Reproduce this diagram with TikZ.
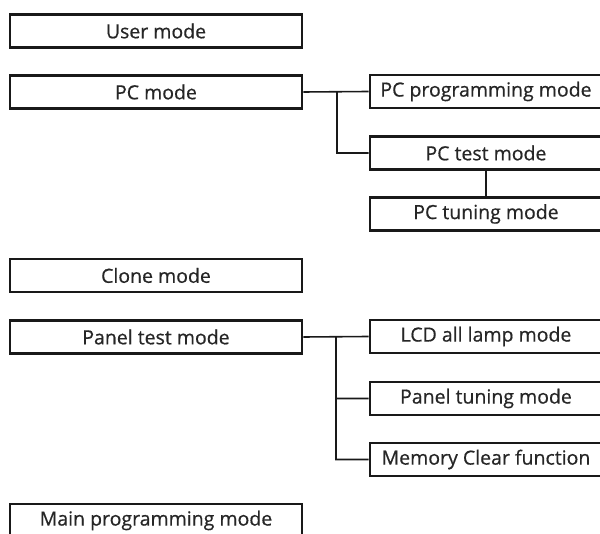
\documentclass[tikz,border=0pt]{standalone}
\usepackage{fontspec}
\setmainfont{Open Sans}[FakeBold=0.6]
\usetikzlibrary{positioning}

\begin{document}
\begin{tikzpicture}[x=1pt,y=-1pt,semithick]
			\tikzstyle{every node}=[font=\fontsize{19.5}{22}\selectfont,text=black!85]
			\tikzstyle{modebox}=[draw=black!90,line width=2.8pt,rectangle,inner sep=0pt,minimum width=292pt,minimum height=33pt]
			\tikzstyle{subbox}=[modebox,minimum width=232pt]
			\tikzstyle{link}=[draw=black!90,line width=1.6pt]
			\clip (0,0) rectangle (600,534);
			\node[modebox]    (U)   at (156,31)    {User mode};
			\node[modebox]    (P)   at (156,92)    {PC mode};
			\node[modebox]    (C)   at (156,275.5) {Clone mode};
			\node[modebox]    (T)   at (156,337)   {Panel test mode};
			\node[modebox]    (M)   at (156,520.5) {Main programming mode};
			\node[subbox]     (Pp)  at (486,91.5)  {PC programming mode};
			\node[subbox]     (Pt)  at (486,153)   {PC test mode};
			\node[subbox]     (Pu)  at (486,214)   {PC tuning mode};
			\node[subbox]     (Tl)  at (486,336.5) {LCD all lamp mode};
			\node[subbox]     (Tu)  at (486,398.5) {Panel tuning mode};
			\node[subbox]     (Tm)  at (486,459.5) {Memory Clear function};
			\coordinate (Pj) at (337,91.5);
			\coordinate (Tj) at (336,336.5);
			\path[link]
			(P.east) -- (Pp.west)
			(Pj) |- (Pt.west)
			(Pt) -- (Pu)
			(T.east) -- (Tl.west)
			(Tj) |- (Tu.west)
			(Tj) |- (Tm.west);
		\end{tikzpicture}
\end{document}
